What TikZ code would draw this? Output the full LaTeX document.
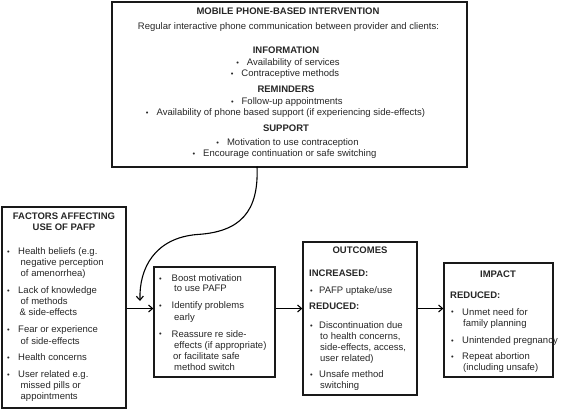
\documentclass[tikz,border=0pt]{standalone}
\usepackage{fontspec}
\setmainfont{Liberation Sans}
\usetikzlibrary{arrows.meta}
\newcounter{tln}
\newcommand{\bul}{{\fontsize{7.5}{7.5}\selectfont\raisebox{0.5pt}{\textbullet}}}
% left-aligned text line
\newcommand{\tl}[3]{\stepcounter{tln}\node[txt,anchor=base west] (tl\arabic{tln}) at (#1,#2) {#3};}
% centred text line
\newcommand{\tc}[3]{\stepcounter{tln}\node[txt,anchor=base] (tl\arabic{tln}) at (#1,#2) {#3};}
% bullet
\newcommand{\tb}[2]{\stepcounter{tln}\node[txt,anchor=base] (tl\arabic{tln}) at (#1,#2) {\bul};}
\begin{document}
\begin{tikzpicture}[x=1pt,y=-1pt,
  txt/.style={inner sep=0pt,font=\fontsize{9.5}{11}\selectfont,text=black!85},
  box/.style={draw=black!90,line width=1.3pt,inner sep=0pt},
  arr/.style={line width=1.1pt,-{Straight Barb[length=4pt,width=7pt]}}]
\useasboundingbox (0,0) rectangle (567,410);
% boxes
\node[box,minimum width=355pt,minimum height=165pt] (top) at (289.5,84.5) {};
\node[box,minimum width=124pt,minimum height=201pt] (factors) at (64,307.5) {};
\node[box,minimum width=121pt,minimum height=110pt] (middle) at (214.5,322) {};
\node[box,minimum width=114pt,minimum height=153pt] (outcomes) at (360,318.5) {};
\node[box,minimum width=109pt,minimum height=114pt] (impact) at (498.5,320) {};
% top box text
\tc{288}{14.5}{\textbf{MOBILE PHONE-BASED INTERVENTION}}
\tc{288.5}{29.5}{Regular interactive phone communication between provider and clients:}
\tc{286}{53.5}{\textbf{INFORMATION}}
\tc{288}{65.5}{\bul\hspace{8pt}Availability of services}
\tc{285}{76.5}{\bul\hspace{8pt}Contraceptive methods}
\tc{286}{92.5}{\textbf{REMINDERS}}
\tc{286.8}{104.5}{\bul\hspace{8pt}Follow-up appointments}
\tc{285.5}{115.5}{\bul\hspace{8pt}Availability of phone based support (if experiencing side-effects)}
\tc{286}{131.5}{\textbf{SUPPORT}}
\tc{287.5}{145.5}{\bul\hspace{8pt}Motivation to use contraception}
\tc{284.5}{156.5}{\bul\hspace{8pt}Encourage continuation or safe switching}
% factors text
\tc{64}{219.5}{\textbf{FACTORS AFFECTING}}
\tc{64}{230.5}{\textbf{USE OF PAFP}}
\tb{8.5}{254.5}\tl{18}{254.5}{Health beliefs (e.g.}
\tl{20.5}{265}{negative perception}
\tl{20.5}{276}{of amenorrhea)}
\tb{8.5}{293.5}\tl{18}{293.5}{Lack of knowledge}
\tl{20.5}{304.5}{of methods}
\tl{19.5}{315.5}{\&\ side-effects}
\tb{8.5}{332.5}\tl{18}{332.5}{Fear or experience}
\tl{20.5}{344}{of side-effects}
\tb{8.5}{360.5}\tl{18}{360.5}{Health concerns}
\tb{8.5}{377.5}\tl{18}{377.5}{User related e.g.}
\tl{20.5}{388.5}{missed pills or}
\tl{20.5}{399.5}{appointments}
% middle text
\tb{160.5}{281.5}\tl{171.5}{281.5}{Boost motivation}
\tl{174}{291.5}{to use PAFP}
\tb{160.5}{308.5}\tl{171.5}{308.5}{Identify problems}
\tl{174}{320}{early}
\tb{160.5}{337}\tl{171.5}{337}{Reassure re side-}
\tl{174}{348.5}{effects (if appropriate)}
\tl{173}{359.5}{or facilitate safe}
\tl{174}{370.5}{method switch}
% outcomes text
\tc{360}{253.5}{\textbf{OUTCOMES}}
\tl{309}{276.8}{\textbf{INCREASED:}}
\tb{311.5}{293.5}\tl{319}{293.5}{PAFP uptake/use}
\tl{309}{309.5}{\textbf{REDUCED:}}
\tb{311.5}{328.5}\tl{319}{328.5}{Discontinuation due}
\tl{320}{339}{to health concerns,}
\tl{320}{350}{side-effects, access,}
\tl{320}{361}{user related)}
\tb{311.5}{377.5}\tl{319}{377.5}{Unsafe method}
\tl{320}{388.5}{switching}
% impact text
\tc{498}{277}{\textbf{IMPACT}}
\tl{450}{298.5}{\textbf{REDUCED:}}
\tb{452.5}{315}\tl{462}{315}{Unmet need for}
\tl{463}{326.5}{family planning}
\tb{452.5}{343.5}\tl{462}{343.5}{Unintended pregnancy}
\tb{452.5}{359.5}\tl{462}{359.5}{Repeat abortion}
\tl{463}{370.5}{(including unsafe)}
% connectors
\coordinate (ay) at (0,308.5);
\coordinate (cs) at (257,166.5);
\coordinate (ce) at (140,301);
\draw[arr] (factors.east |- ay) -- (middle.west |- ay);
\draw[arr] (middle.east |- ay) -- (outcomes.west |- ay);
\draw[arr] (outcomes.east |- ay) -- (impact.west |- ay);
\draw[arr] (cs) .. controls (259,212) and (240,232) .. (197,234.5)
  .. controls (155,238) and (139,268) .. (ce);
\end{tikzpicture}
\end{document}
